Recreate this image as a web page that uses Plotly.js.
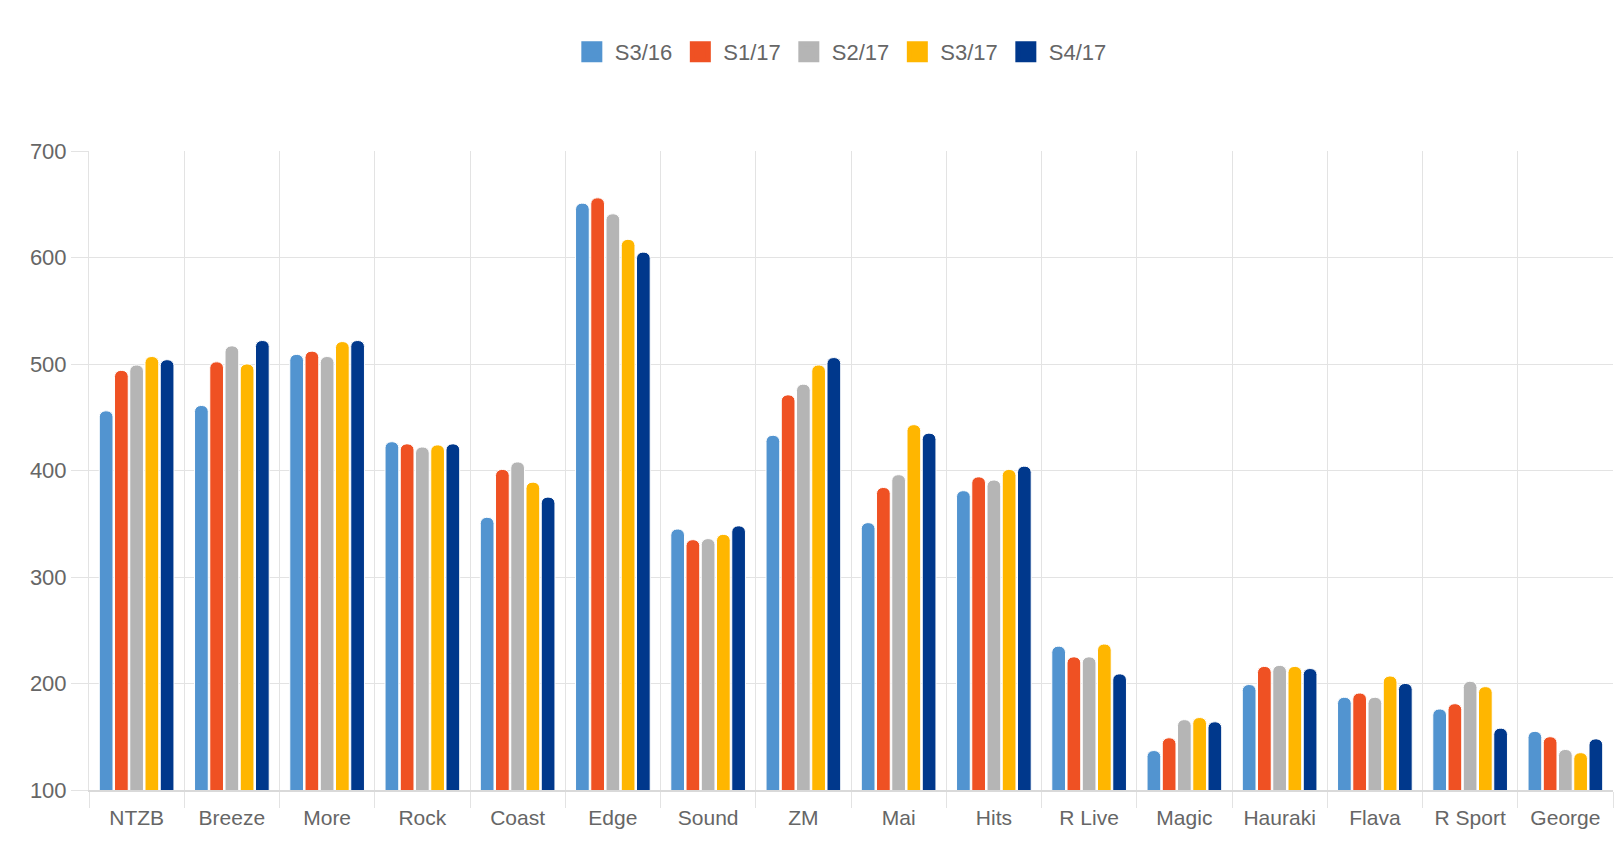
<!DOCTYPE html>
<html>
<head>
<meta charset="utf-8">
<script src="https://cdn.plot.ly/plotly-3.0.1.min.js"></script>
<style>
  html, body { margin: 0; padding: 0; background: #fff; }
  #chart { width: 1623px; height: 847px; }
</style>
</head>
<body>
<div id="chart"></div>
<script>
const stations = ['NTZB', 'Breeze', 'More', 'Rock', 'Coast', 'Edge', 'Sound', 'ZM',
  'Mai', 'Hits', 'R Live', 'Magic', 'Hauraki', 'Flava', 'R Sport', 'George']

const seriesNames = ['S3/16', 'S1/17', 'S2/17', 'S3/17', 'S4/17']
const seriesColors = ['#5294d0', '#ef5123', '#b5b5b5', '#ffb600', '#00388c']

const s3_16 = [456, 461, 509, 427, 356, 651, 345, 433, 351, 381, 235, 137, 199, 187, 176, 155]
const s1_17 = [494, 502, 512, 425, 401, 656, 335, 471, 384, 394, 225, 149, 216, 191, 181, 150]
const s2_17 = [499, 517, 507, 422, 408, 641, 336, 481, 396, 391, 225, 166, 217, 187, 202, 138]
const s3_17 = [507, 500, 521, 424, 389, 617, 340, 499, 443, 401, 237, 168, 216, 207, 197, 135]
const s4_17 = [504, 522, 522, 425, 375, 605, 348, 506, 435, 404, 209, 164, 214, 200, 158, 148]

const yTicks = [100, 200, 300, 400, 500, 600, 700]

const allSeries = [s3_16, s1_17, s2_17, s3_17, s4_17]

let traces = []

// the bars
allSeries.forEach(function(values, i) {
  traces.push({
    type: 'bar',
    name: seriesNames[i],
    legendgroup: seriesNames[i],
    showlegend: false,
    x: stations,
    y: values,
    marker: {
      color: seriesColors[i],
      cornerradius: 6,
      line: {color: '#ffffff', width: 1}
    }
  })
})

// legend-only entries so the swatches can be bigger than the bar default
allSeries.forEach(function(values, i) {
  traces.push({
    type: 'scatter',
    mode: 'markers',
    name: seriesNames[i],
    legendgroup: seriesNames[i],
    x: [stations[0]],
    y: [null],
    hoverinfo: 'skip',
    marker: {
      symbol: 'square',
      size: 16,
      color: seriesColors[i],
      line: {color: seriesColors[i], width: 5}
    }
  })
})

const fontFamily = 'Liberation Sans, Arial, sans-serif'
const textFont = {family: fontFamily, size: 21, color: '#666666'}

const layout = {
  width: 1623,
  height: 847,
  margin: {l: 89, r: 10, t: 151, b: 57},
  paper_bgcolor: '#ffffff',
  plot_bgcolor: '#ffffff',
  font: textFont,
  barmode: 'group',
  bargap: 0.2,
  bargroupgap: 0.1,
  showlegend: true,
  legend: {
    orientation: 'h',
    x: 0.493,
    xanchor: 'center',
    y: 1.155,
    yanchor: 'middle',
    font: {family: fontFamily, size: 22, color: '#666666'},
    itemwidth: 36,
    traceorder: 'normal'
  },
  xaxis: {
    type: 'category',
    range: [-0.5, stations.length - 0.5],
    tickson: 'boundaries',
    ticks: 'outside',
    ticklen: 16,
    tickwidth: 1,
    tickcolor: '#e3e3e3',
    ticklabelstandoff: 8,
    showgrid: true,
    gridcolor: '#e3e3e3',
    gridwidth: 1,
    showline: true,
    linecolor: '#d9d9d9',
    linewidth: 1.5,
    tickfont: textFont,
    fixedrange: true
  },
  yaxis: {
    range: [100, 700],
    tickvals: yTicks,
    ticks: 'outside',
    ticklen: 17,
    tickwidth: 1,
    tickcolor: '#e3e3e3',
    showgrid: true,
    gridcolor: '#e3e3e3',
    gridwidth: 1,
    zeroline: false,
    showline: true,
    linecolor: '#e3e3e3',
    linewidth: 1,
    tickfont: {family: fontFamily, size: 22, color: '#666666'},
    fixedrange: true
  }
}

Plotly.newPlot('chart', traces, layout, {displayModeBar: false, staticPlot: true})
</script>
</body>
</html>
